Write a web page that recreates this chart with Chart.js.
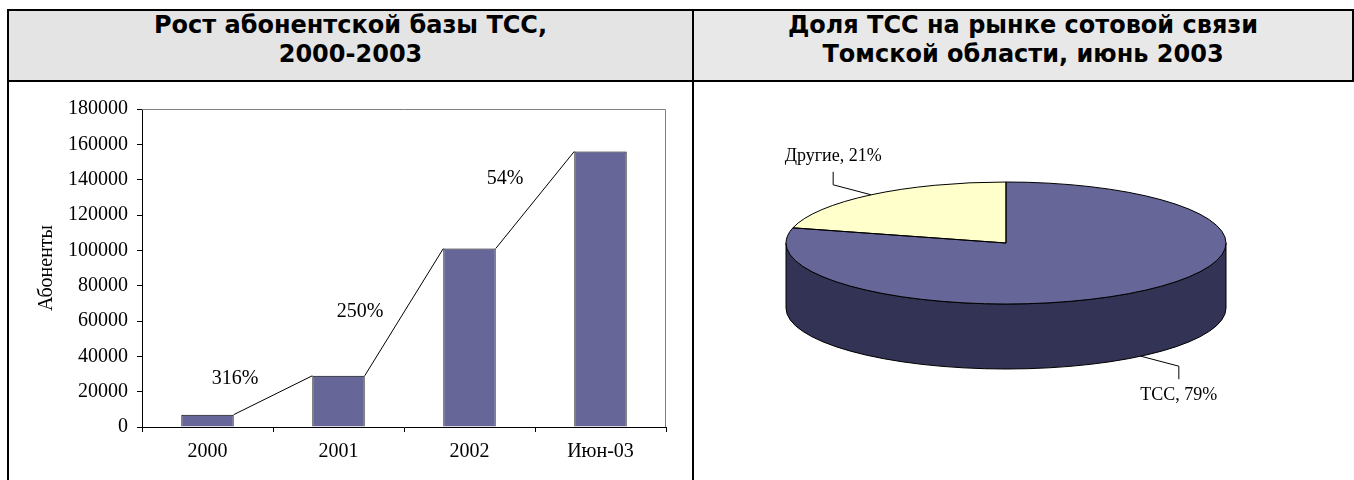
<!DOCTYPE html>
<html lang="ru">
<head>
<meta charset="UTF-8">
<title>ТСС</title>
<script src="https://cdn.jsdelivr.net/npm/chart.js"></script>
<style>
  * { margin: 0; padding: 0; box-sizing: border-box; }
  body { width: 1354px; height: 480px; overflow: hidden; background: #fff; position: relative; }
  .head { position: absolute; top: 11px; height: 69px; text-align: center;
          font-family: 'DejaVu Sans', sans-serif; font-weight: bold; font-size: 24px; line-height: 29px; color: #000; }
  .line { position: absolute; background: #000; }
  canvas { position: absolute; }
</style>
</head>
<body>
  <div class="head" style="left:9px; width:683px; background:#e4e4e4;">Рост абонентской базы ТСС,<br>2000-2003</div>
  <div class="head" style="left:694px; width:658px; background:#e8e8e8;">Доля ТСС на рынке сотовой связи<br>Томской области, июнь 2003</div>

  <div class="line" style="left:8px; top:9px; width:1346px; height:2px;"></div>
  <div class="line" style="left:8px; top:80px; width:1346px; height:2px;"></div>
  <div class="line" style="left:7px; top:9px; width:2px; height:471px;"></div>
  <div class="line" style="left:692px; top:9px; width:2px; height:471px;"></div>
  <div class="line" style="left:1352px; top:9px; width:2px; height:73px;"></div>

  <canvas id="bars" width="690" height="398" style="left:0; top:82px;"></canvas>
  <canvas id="pie" width="660" height="398" style="left:694px; top:82px;"></canvas>

<script>
// --- data ---
const CATEGORIES = ['2000', '2001', '2002', 'Июн-03'];
const SUBSCRIBERS = [6970, 29000, 101000, 156000];
const GROWTH_LABELS = ['316%', '250%', '54%'];
const Y_MIN = 0;
const Y_MAX = 180000;
const Y_STEP = 20000;
const Y_TITLE = 'Абоненты';

const SHARE_LABELS = ['ТСС', 'Другие'];
const SHARE_VALUES = [79, 21];

// --- style ---
const SERIF = '"Liberation Serif", "Times New Roman", serif';
const BAR_FONT = 20;
const PIE_FONT = 18;
const BAR_COLOR = '#666699';
const PIE_TOP = ['#666699', '#FFFFCC'];
const PIE_SIDE = ['#333355', '#8a8a6a'];
// nudges of the growth labels from the middle of each connector
const GROWTH_NUDGE = [[-38, -16], [-44, 0], [-30, -21]];
// ellipse of the 3D pie in canvas px
const PIE_GEOM = { cx: 312, cy: 161, rx: 220, ry: 61, depth: 65 };

Chart.defaults.font.family = SERIF;
Chart.defaults.font.size = BAR_FONT;
Chart.defaults.color = '#000';

const frame = {
  id: 'frame',
  beforeDatasetsDraw(chart) {
    const { ctx, chartArea: a } = chart;
    ctx.save();
    ctx.strokeStyle = '#808080';
    ctx.lineWidth = 1;
    ctx.beginPath();
    ctx.moveTo(a.left, a.top + 0.5);
    ctx.lineTo(a.right - 0.5, a.top + 0.5);
    ctx.lineTo(a.right - 0.5, a.bottom);
    ctx.stroke();
    ctx.restore();
  }
};

const growth = {
  id: 'growth',
  afterDatasetsDraw(chart) {
    const ctx = chart.ctx;
    const bars = chart.getDatasetMeta(0).data;
    ctx.save();
    ctx.strokeStyle = '#000';
    ctx.lineWidth = 1;
    ctx.fillStyle = '#000';
    ctx.font = BAR_FONT + 'px ' + SERIF;
    ctx.textAlign = 'center';
    ctx.textBaseline = 'middle';
    for (let i = 0; i < bars.length - 1; i++) {
      const a = bars[i], b = bars[i + 1];
      const x1 = a.x + a.width / 2, y1 = a.y;
      const x2 = b.x - b.width / 2, y2 = b.y;
      ctx.beginPath();
      ctx.moveTo(x1, y1);
      ctx.lineTo(x2, y2);
      ctx.stroke();
      const [dx, dy] = GROWTH_NUDGE[i];
      ctx.fillText(GROWTH_LABELS[i], (x1 + x2) / 2 + dx, (y1 + y2) / 2 + dy);
    }
    ctx.restore();
  }
};

new Chart(document.getElementById('bars'), {
  type: 'bar',
  data: {
    labels: CATEGORIES,
    datasets: [{
      data: SUBSCRIBERS,
      backgroundColor: BAR_COLOR,
      borderColor: '#000',
      borderWidth: 1,
      categoryPercentage: 0.4,
      barPercentage: 1
    }]
  },
  options: {
    responsive: false,
    animation: false,
    devicePixelRatio: 1,
    layout: { padding: { left: 31, right: 24, top: 27, bottom: 13 } },
    plugins: { legend: { display: false }, tooltip: { enabled: false } },
    scales: {
      x: {
        grid: { offset: true, drawOnChartArea: false, drawTicks: true, tickLength: 5, color: '#000' },
        border: { color: '#000' },
        ticks: { padding: 8 },
        afterFit: s => { s.height = 40; }
      },
      y: {
        min: Y_MIN,
        max: Y_MAX,
        ticks: { stepSize: Y_STEP, padding: 9, callback: v => String(v) },
        grid: { drawOnChartArea: false, drawTicks: true, tickLength: 5, color: '#000' },
        border: { color: '#000' },
        title: { display: true, text: Y_TITLE, padding: 4 },
        afterFit: s => { s.width = 111; }
      }
    }
  },
  plugins: [frame, growth]
});

const pie3d = {
  id: 'pie3d',
  beforeDatasetsDraw(chart) {
    const ctx = chart.ctx;
    const arcs = chart.getDatasetMeta(0).data;
    const { cx, cy, rx, ry, depth } = PIE_GEOM;
    ctx.save();
    ctx.lineWidth = 1;
    ctx.strokeStyle = '#000';
    // side wall: only the front half (0..PI) is visible
    arcs.forEach((arc, i) => {
      const lo = Math.max(arc.startAngle, 0);
      const hi = Math.min(arc.endAngle, Math.PI);
      if (lo >= hi) return;
      ctx.beginPath();
      ctx.ellipse(cx, cy, rx, ry, 0, lo, hi);
      ctx.lineTo(cx + rx * Math.cos(hi), cy + depth + ry * Math.sin(hi));
      ctx.ellipse(cx, cy + depth, rx, ry, 0, hi, lo, true);
      ctx.closePath();
      ctx.fillStyle = PIE_SIDE[i];
      ctx.fill();
      ctx.stroke();
    });
    // squash the library's round pie onto the top ellipse
    const a0 = arcs[0];
    ctx.translate(cx, cy);
    ctx.scale(rx / a0.outerRadius, ry / a0.outerRadius);
    ctx.translate(-a0.x, -a0.y);
  },
  afterDatasetsDraw(chart) {
    const ctx = chart.ctx;
    ctx.restore();
    const arcs = chart.getDatasetMeta(0).data;
    const { cx, cy, rx, ry, depth } = PIE_GEOM;
    ctx.save();
    ctx.lineWidth = 1;
    ctx.strokeStyle = '#000';
    arcs.forEach(arc => {
      ctx.beginPath();
      ctx.moveTo(cx, cy);
      ctx.ellipse(cx, cy, rx, ry, 0, arc.startAngle, arc.endAngle);
      ctx.closePath();
      ctx.stroke();
    });
    // labels with elbow leaders
    ctx.font = PIE_FONT + 'px ' + SERIF;
    ctx.fillStyle = '#000';
    ctx.textAlign = 'center';
    ctx.textBaseline = 'middle';
    arcs.forEach((arc, i) => {
      const mid = (arc.startAngle + arc.endAngle) / 2;
      const c = Math.cos(mid), s = Math.sin(mid);
      const px = cx + rx * c;
      const py = cy + ry * s + (s > 0 ? depth : 0);
      const ex = px + Math.sign(c) * 38;
      const ey = py + Math.sign(s) * 10;
      const ty = ey + Math.sign(s) * 13;
      ctx.beginPath();
      ctx.moveTo(px, py);
      ctx.lineTo(ex, ey);
      ctx.lineTo(ex, ty);
      ctx.stroke();
      const txt = chart.data.labels[i] + ', ' + chart.data.datasets[0].data[i] + '%';
      ctx.fillText(txt, ex, ty + Math.sign(s) * 16);
    });
    ctx.restore();
  }
};

new Chart(document.getElementById('pie'), {
  type: 'pie',
  data: {
    labels: SHARE_LABELS,
    datasets: [{
      data: SHARE_VALUES,
      backgroundColor: PIE_TOP,
      borderWidth: 0,
      clip: false
    }]
  },
  options: {
    responsive: false,
    animation: false,
    devicePixelRatio: 1,
    plugins: { legend: { display: false }, tooltip: { enabled: false } }
  },
  plugins: [pie3d]
});
</script>
</body>
</html>
